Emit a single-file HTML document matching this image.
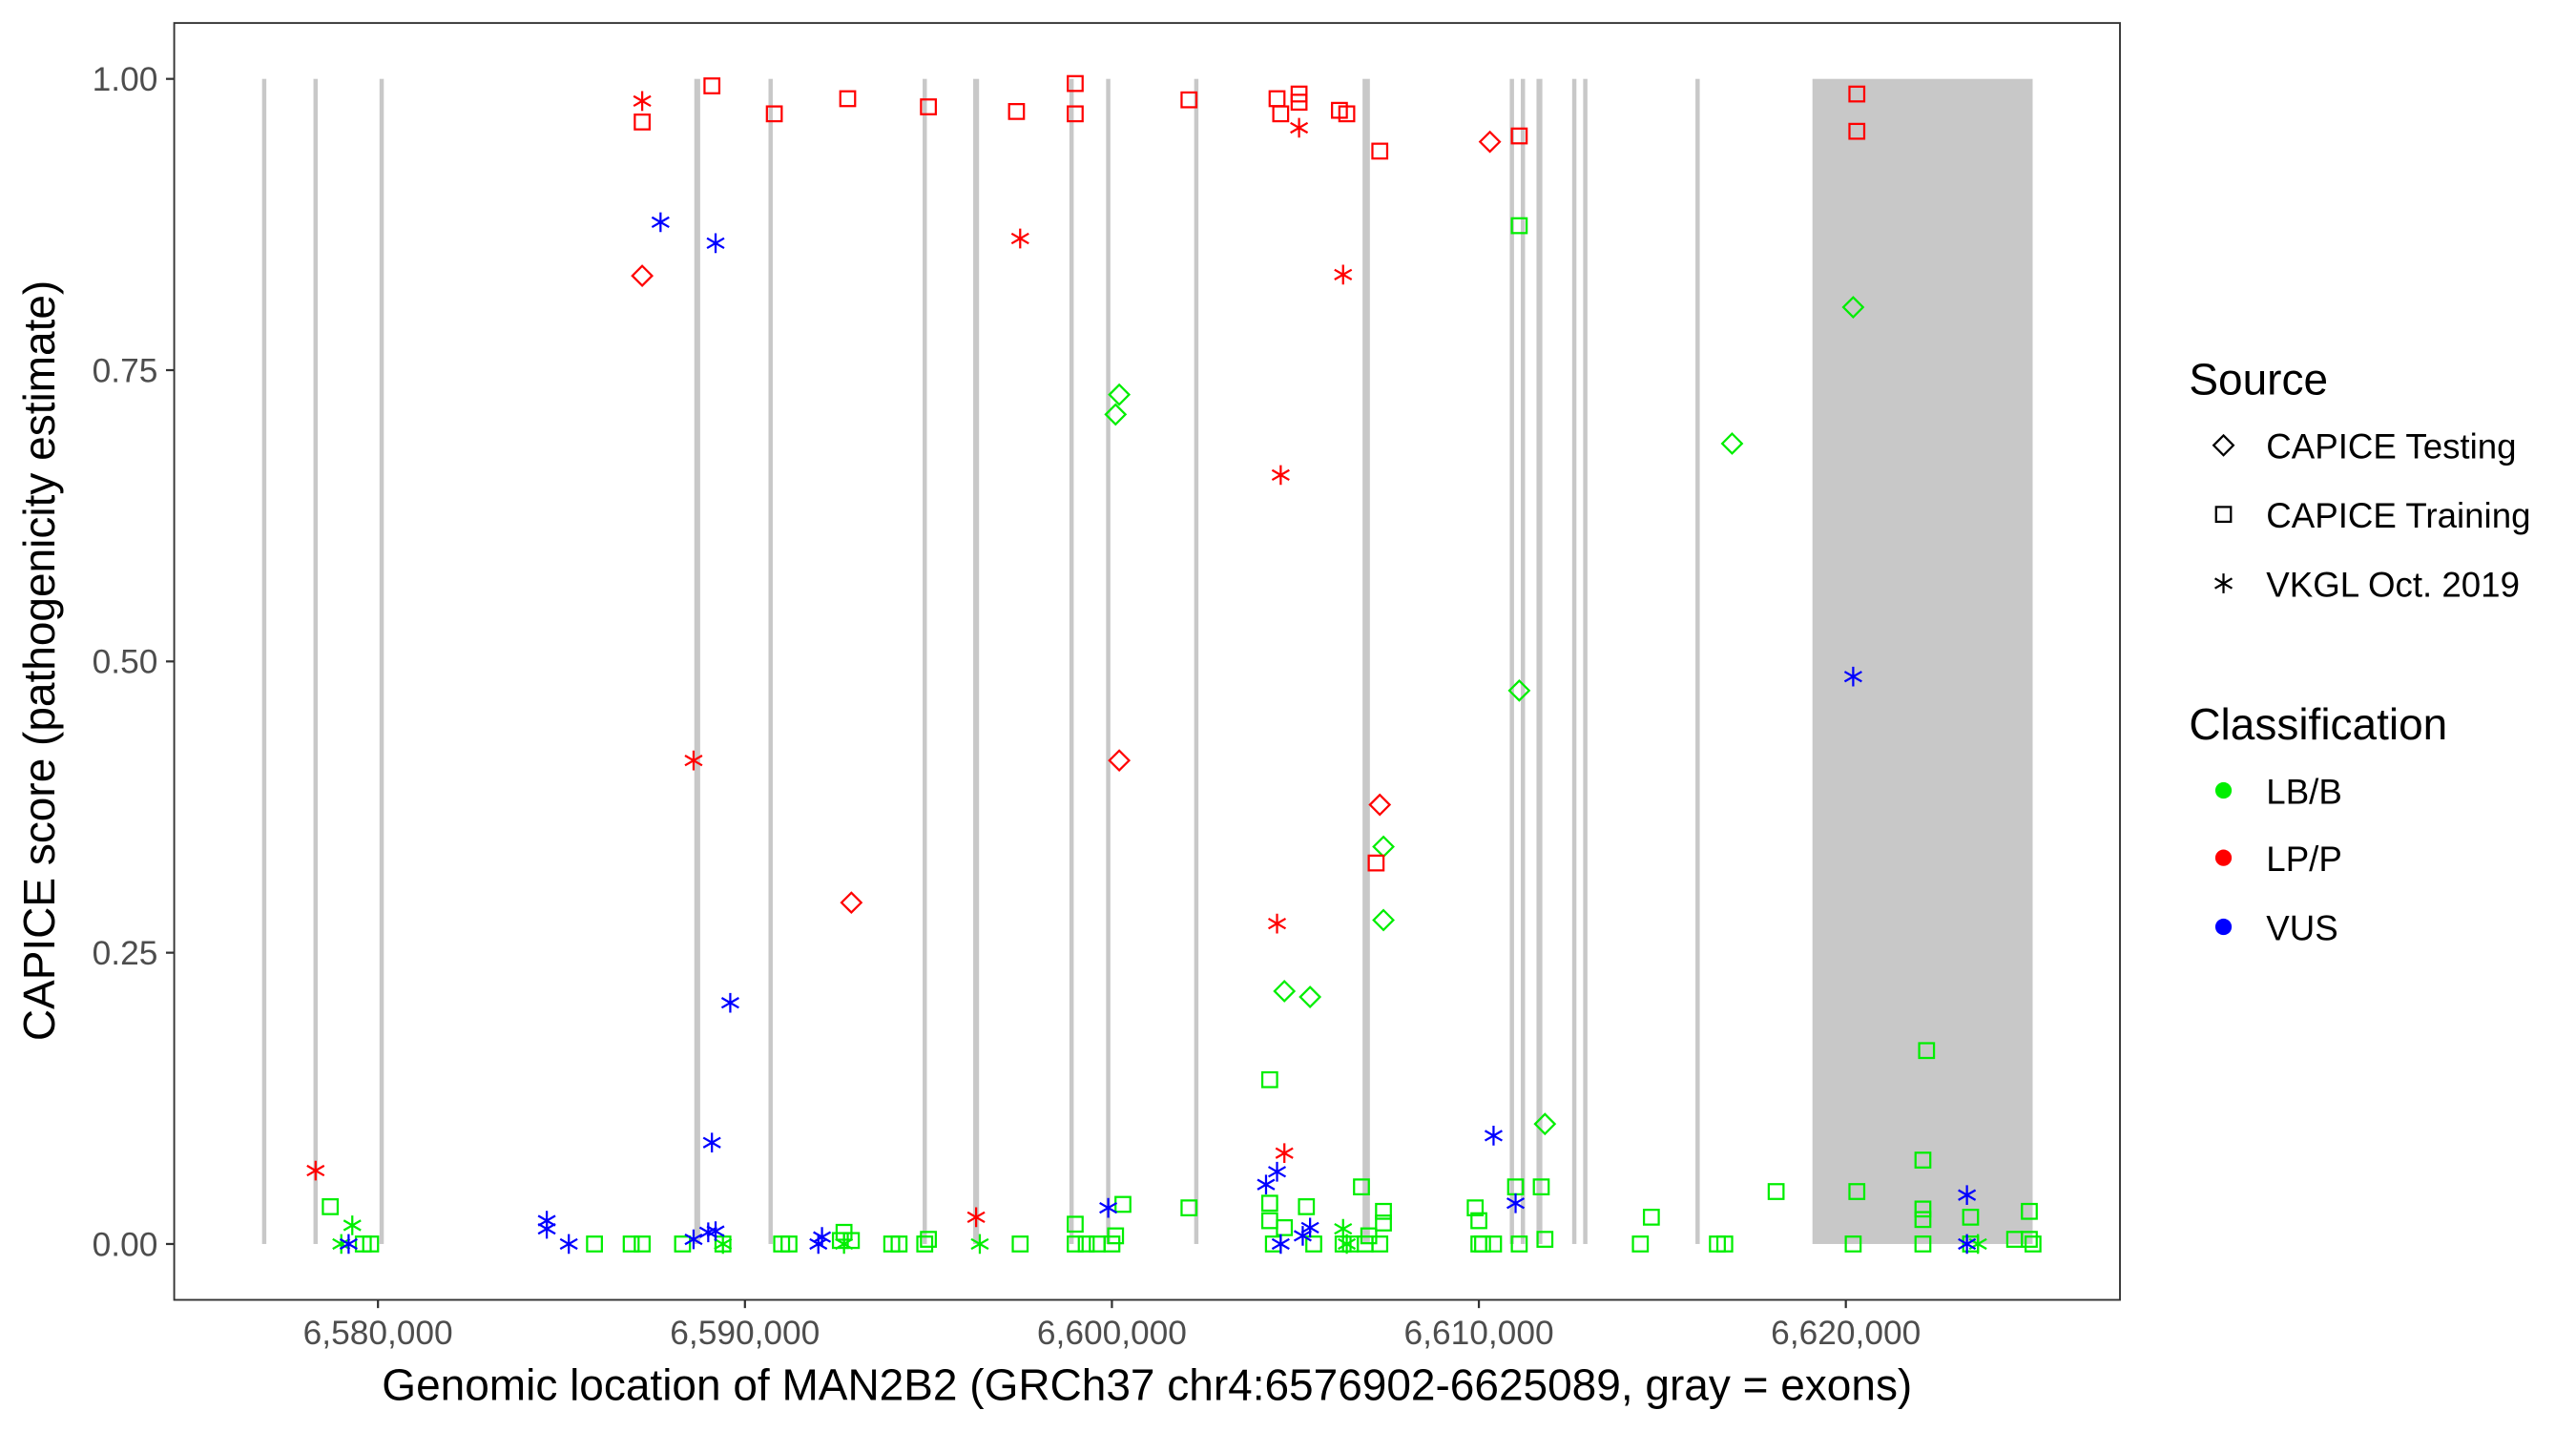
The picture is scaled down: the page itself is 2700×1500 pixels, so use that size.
<!DOCTYPE html>
<html><head><meta charset="utf-8">
<style>
html,body{margin:0;padding:0;background:#fff;}
svg{display:block;}
text{font-family:"Liberation Sans",sans-serif;}
</style></head>
<body>
<svg id="chart" width="2700" height="1500" viewBox="0 0 1567.5 870.8" preserveAspectRatio="none" xmlns="http://www.w3.org/2000/svg">
<rect x="0" y="0" width="1567.5" height="870.8" fill="#fff"/>
<g id="exons"></g>
<g id="points"></g>
<rect x="106" y="14" width="1184" height="777" fill="none" stroke="#333" stroke-width="1.1"/>
<g id="yaxis"></g>
<g id="xaxis"></g>
<text transform="translate(33,402) rotate(-90)" text-anchor="middle" font-size="26.7" fill="#000">CAPICE score (pathogenicity estimate)</text>
<text x="698" y="852" text-anchor="middle" font-size="26.7" fill="#000">Genomic location of MAN2B2 (GRCh37 chr4:6576902-6625089, gray = exons)</text>
<g id="legend">
  <text x="1332" y="240" font-size="26.7">Source</text>
  <g>
    <path d="M1353,265 L1359,271 L1353,277 L1347,271 Z" fill="none" stroke="#000" stroke-width="1.3"/>
    <text x="1379" y="279" font-size="21.3">CAPICE Testing</text>
  </g>
  <g>
    <rect x="1348.5" y="308.5" width="9" height="9" fill="none" stroke="#000" stroke-width="1.3"/>
    <text x="1379" y="321" font-size="21.3">CAPICE Training</text>
  </g>
  <g>
    <path d="M1353,349 V361 M1347.8,352 L1358.2,358 M1347.8,358 L1358.2,352" stroke="#000" stroke-width="1.3"/>
    <text x="1379" y="363" font-size="21.3">VKGL Oct. 2019</text>
  </g>
  <text x="1332" y="450" font-size="26.7">Classification</text>
  <g>
    <circle cx="1353" cy="481" r="5" fill="#00ee00"/><text x="1379" y="489" font-size="21.3">LB/B</text>
  </g>
  <g>
    <circle cx="1353" cy="522" r="5" fill="#ff0000"/><text x="1379" y="530" font-size="21.3">LP/P</text>
  </g>
  <g>
    <circle cx="1353" cy="564" r="5" fill="#0000ff"/><text x="1379" y="572" font-size="21.3">VUS</text>
  </g>
</g>
</svg>
<script>
// ---- data (positions in kb, scores 0..1) ----
const exonStartKb = [6576.87,6578.27,6580.07,6588.62,6590.67,6594.87,6596.22,6598.87,6599.87,6602.27,6606.83,6610.87,6611.17,6611.57,6612.57,6612.87,6615.93,6619.09];
const exonEndKb   = [6576.93,6578.33,6580.13,6588.78,6590.73,6594.93,6596.38,6598.93,6599.93,6602.33,6607.03,6610.93,6611.23,6611.73,6612.63,6612.93,6615.99,6625.09];

const lpSquarePosKb = [6587.2,6589.1,6590.8,6592.8,6595.0,6597.4,6599.0,6599.0,6602.1,6604.5,6604.6,6605.1,6605.1,6606.2,6606.4,6607.3,6611.1,6620.3,6620.3,6607.2];
const lpSquareScore = [0.963,0.994,0.970,0.983,0.976,0.972,0.996,0.970,0.982,0.983,0.970,0.987,0.980,0.973,0.970,0.938,0.951,0.987,0.955,0.327];
const lpStarPosKb = [6587.2,6605.1,6597.5,6606.3,6604.6,6588.6,6604.5,6604.7,6596.3,6578.3];
const lpStarScore = [0.981,0.958,0.863,0.832,0.660,0.415,0.275,0.078,0.023,0.063];
const lpDiamondPosKb = [6587.2,6610.3,6592.9,6600.2,6607.3];
const lpDiamondScore = [0.831,0.946,0.293,0.415,0.377];

const vusStarPosKb = [6587.7,6589.2,6589.6,6589.1,6620.2,6610.4,6611.0,6623.3,6599.9,6604.2,6604.5,6604.6,6605.2,6605.4,6584.6,6584.6,6585.2,6588.6,6589.0,6589.2,6592.1,6592.0,6579.2,6623.3];
const vusStarScore = [0.877,0.859,0.207,0.087,0.487,0.093,0.035,0.042,0.031,0.051,0.062,0.0,0.007,0.014,0.020,0.013,0.0,0.004,0.010,0.011,0.006,0.0,0.0,0.0];

const lbSquarePosKb = [6578.7,6579.8,6579.6,6585.9,6586.9,6587.2,6588.3,6589.4,6591.0,6591.2,6592.6,6592.9,6592.7,6594.0,6594.2,6594.9,6595.0,6597.5,6599.0,6599.0,6599.3,6599.6,6600.0,6600.1,6600.3,6602.1,6604.3,6604.3,6604.3,6604.4,6604.7,6605.3,6605.5,6606.3,6606.5,6606.8,6606.9,6607.0,6607.3,6607.4,6607.4,6609.9,6610.0,6610.0,6610.1,6610.4,6611.1,6611.0,6611.1,6611.7,6611.8,6614.7,6614.4,6616.5,6616.7,6618.1,6620.2,6620.3,6622.2,6622.1,6622.1,6622.1,6622.1,6623.4,6623.4,6624.6,6625.0,6625.1,6625.0];
const lbSquareScore = [0.032,0,0,0,0,0,0,0,0,0,0.003,0.003,0.010,0,0,0,0.004,0,0.017,0,0,0,0,0.007,0.034,0.031,0.141,0.035,0.020,0,0.014,0.032,0,0,0,0.049,0,0.007,0,0.028,0.018,0.031,0.020,0,0,0,0.874,0.049,0,0.049,0.004,0.023,0,0,0,0.045,0,0.045,0.166,0.072,0.030,0.021,0,0.023,0,0.004,0.028,0,0.004];
const lbDiamondPosKb = [6600.2,6600.1,6616.9,6611.1,6607.4,6607.4,6604.7,6605.4,6611.8,6620.2];
const lbDiamondScore = [0.729,0.712,0.687,0.475,0.341,0.278,0.217,0.212,0.103,0.804];
const lbStarPosKb = [6579.3,6579.0,6606.3,6606.4,6623.6,6596.4,6589.4,6592.7];
const lbStarScore = [0.016,0,0.013,0,0,0,0,0];

const xTickKb = [6580,6590,6600,6610,6620];
const xTickLabels = ["6,580,000","6,590,000","6,600,000","6,610,000","6,620,000"];
const yTicks = [0,0.25,0.5,0.75,1];
const yTickLabels = ["0.00","0.25","0.50","0.75","1.00"];

// ---- scales ----
const X = kb => 230 + (kb - 6580) * 22.33;
const Y = s => 757 - s * 709;
const NS = "http://www.w3.org/2000/svg";
function mk(tag, attrs, parent){const e=document.createElementNS(NS,tag);for(const k in attrs)e.setAttribute(k,attrs[k]);parent.appendChild(e);return e;}

// exons
const gEx = document.getElementById('exons');
exonStartKb.forEach((s,i)=>{
  const x0=X(s), x1=X(exonEndKb[i]); let w=x1-x0; let cx=(x0+x1)/2; if(w<2.6) w=2.6;
  const r=mk('rect',{x:cx-w/2,y:Y(1),width:w,height:Y(0)-Y(1),fill:'#c8c8c8'},gEx);
  
  
});

// axes
const ya=document.getElementById('yaxis');
yTicks.forEach((t,i)=>{
  mk('line',{x1:101,x2:106,y1:Y(t),y2:Y(t),stroke:'#333','stroke-width':1.3},ya);
  const tx=mk('text',{x:96,y:Y(t)+7.2,'text-anchor':'end','font-size':'20.5',fill:'#4d4d4d'},ya);
  tx.textContent=yTickLabels[i];
  
  
});
const xa=document.getElementById('xaxis');
xTickKb.forEach((t,i)=>{
  mk('line',{x1:X(t),x2:X(t),y1:791,y2:796,stroke:'#333','stroke-width':1.3},xa);
  const tx=mk('text',{x:X(t),y:818,'text-anchor':'middle','font-size':'20.5',fill:'#4d4d4d'},xa);
  tx.textContent=xTickLabels[i];
  
  
});

// points
const gp=document.getElementById('points');
function square(x,y,c){return mk('rect',{x:x-4.5,y:y-4.5,width:9,height:9,fill:'none',stroke:c,'stroke-width':1.3},gp);}
function diamond(x,y,c){return mk('path',{d:`M${x},${y-6} L${x+6},${y} L${x},${y+6} L${x-6},${y} Z`,fill:'none',stroke:c,'stroke-width':1.3},gp);}
function star(x,y,c){return mk('path',{d:`M${x},${y-6} V${y+6} M${x-5.2},${y-3} L${x+5.2},${y+3} M${x-5.2},${y+3} L${x+5.2},${y-3}`,stroke:c,'stroke-width':1.3,fill:'none'},gp);}
function series(pos,score,fn,color,name){
  pos.forEach((p,i)=>{
    const el=fn(X(p),Y(score[i]),color);
    
    
  });
}
const GREEN='#00ee00', RED='#ff0000', BLUE='#0000ff';
series(lbSquarePosKb,lbSquareScore,square,GREEN,'lb-training-point');
series(lbDiamondPosKb,lbDiamondScore,diamond,GREEN,'lb-testing-point');
series(lbStarPosKb,lbStarScore,star,GREEN,'lb-vkgl-point');
series(vusStarPosKb,vusStarScore,star,BLUE,'vus-vkgl-point');
series(lpSquarePosKb,lpSquareScore,square,RED,'lp-training-point');
series(lpDiamondPosKb,lpDiamondScore,diamond,RED,'lp-testing-point');
series(lpStarPosKb,lpStarScore,star,RED,'lp-vkgl-point');
</script>
</body></html>
